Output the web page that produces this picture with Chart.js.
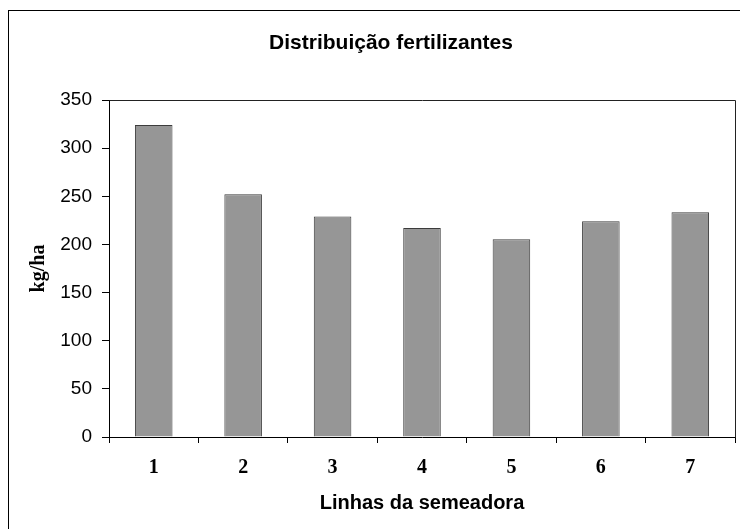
<!DOCTYPE html>
<html>
<head>
<meta charset="utf-8">
<title>Distribuição fertilizantes</title>
<script src="https://cdn.jsdelivr.net/npm/chart.js@4.4.1/dist/chart.umd.min.js"></script>
<style>
    html, body { margin: 0; padding: 0; background: #ffffff; }
    #chartBox { width: 740px; height: 529px; }
</style>
</head>
<body>
<div id="chartBox">
    <canvas id="fertChart" width="740" height="529"></canvas>
</div>
<script>
const linhas = ["1", "2", "3", "4", "5", "6", "7"];
const kgHa = [324, 252, 229, 217, 205.5, 224, 233.5];
const yTicks = [0, 50, 100, 150, 200, 250, 300, 350];

const chartTitle = "Distribuição fertilizantes";
const xTitle = "Linhas da semeadora";
const yTitle = "kg/ha";

// outer frame, box round the plot and the title
const framePlugin = {
    id: "frame",
    afterDraw(chart) {
        const ctx = chart.ctx;
        const area = chart.chartArea;
        ctx.save();
        ctx.strokeStyle = "#000000";
        ctx.lineWidth = 1;
        ctx.strokeRect(8.5, 10.5, 760, 540);
        ctx.strokeStyle = "#222222";
        ctx.beginPath();
        ctx.moveTo(Math.round(area.left) + 0.5, Math.round(area.top) + 0.5);
        ctx.lineTo(Math.round(area.right) + 0.5, Math.round(area.top) + 0.5);
        ctx.lineTo(Math.round(area.right) + 0.5, Math.round(area.bottom) + 0.5);
        ctx.stroke();
        ctx.fillStyle = "#000000";
        ctx.font = "bold 21px 'Liberation Sans', Arial, sans-serif";
        ctx.textAlign = "center";
        ctx.textBaseline = "alphabetic";
        ctx.fillText(chartTitle, 391, 49);
        ctx.restore();
    }
};

const ctx = document.getElementById("fertChart").getContext("2d");

new Chart(ctx, {
    type: "bar",
    data: {
        labels: linhas,
        datasets: [{
            label: yTitle,
            data: kgHa,
            backgroundColor: "#969696",
            borderColor: "#3c3c3c",
            borderWidth: 1,
            barPercentage: 0.42,
            categoryPercentage: 1
        }]
    },
    options: {
        responsive: false,
        devicePixelRatio: 1,
        animation: false,
        layout: {
            padding: { left: 0, top: 100, right: 5, bottom: 0 }
        },
        plugins: {
            legend: { display: false },
            tooltip: { enabled: false },
            title: { display: false }
        },
        scales: {
            x: {
                afterFit(scale) { scale.height = 92; },
                grid: {
                    display: true,
                    drawOnChartArea: false,
                    drawTicks: true,
                    tickLength: 6,
                    color: "#000000"
                },
                border: { display: true, color: "#000000", width: 1 },
                ticks: {
                    color: "#000000",
                    padding: 13,
                    font: { family: "'Liberation Serif', 'Times New Roman', serif", size: 20, weight: "bold" }
                },
                title: {
                    display: true,
                    text: xTitle,
                    color: "#000000",
                    padding: { top: 0, bottom: 14 },
                    font: { family: "'Liberation Sans', Arial, sans-serif", size: 20, weight: "bold" }
                }
            },
            y: {
                min: 0,
                max: 350,
                afterFit(scale) { scale.width = 109; },
                afterBuildTicks(scale) {
                    scale.ticks = yTicks.map(v => ({ value: v }));
                },
                grid: {
                    display: true,
                    drawOnChartArea: false,
                    drawTicks: true,
                    tickLength: 7,
                    color: "#000000"
                },
                border: { display: true, color: "#000000", width: 1 },
                ticks: {
                    color: "#000000",
                    padding: 10,
                    font: { family: "'Liberation Sans', Arial, sans-serif", size: 19 }
                },
                title: {
                    display: true,
                    text: yTitle,
                    color: "#000000",
                    padding: { top: 27, bottom: 0 },
                    font: { family: "'Liberation Serif', 'Times New Roman', serif", size: 20, weight: "bold" }
                }
            }
        }
    },
    plugins: [framePlugin]
});
</script>
</body>
</html>
